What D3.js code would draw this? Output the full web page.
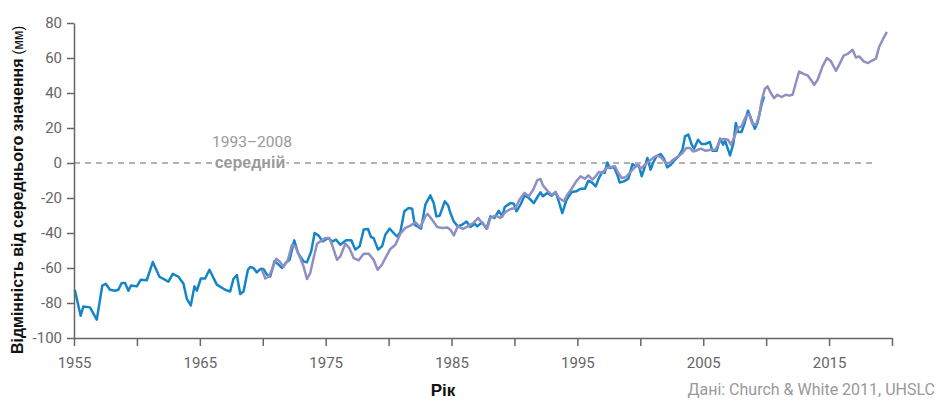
<!DOCTYPE html>
<html>
<head>
<meta charset="utf-8">
<script src="https://cdn.jsdelivr.net/npm/d3@7"></script>
<style>
  body { margin: 0; background: #fff; }
  .axis .tick text { font-family: Roboto, sans-serif; font-size: 15px; fill: #666; }
  .axis path, .axis line { stroke: #666; stroke-width: 1.5; }
</style>
</head>
<body>
<div id="chart"></div>
<script>
// Church & White 2011 (blue)
const cwYears = [1955.06,1955.53,1955.74,1956.27,1956.81,1957.25,1957.52,1957.86,1958.26,1958.52,1958.79,1959.06,1959.32,1959.53,1959.99,1960.31,1960.78,1961.26,1961.79,1962.5,1962.85,1963.3,1963.7,1963.97,1964.28,1964.57,1964.76,1965.08,1965.42,1965.76,1966.35,1967.01,1967.41,1967.67,1967.94,1968.21,1968.47,1968.82,1969.0,1969.26,1969.53,1969.8,1970.06,1970.33,1970.59,1970.93,1971.25,1971.52,1971.84,1972.13,1972.5,1972.8,1973.24,1973.51,1973.85,1974.12,1974.44,1974.75,1975.18,1975.55,1975.82,1976.16,1976.62,1977.04,1977.35,1977.7,1978.02,1978.36,1978.6,1978.81,1979.16,1979.48,1979.74,1980.08,1980.4,1980.67,1980.93,1981.25,1981.59,1981.87,1982.07,1982.31,1982.58,1982.92,1983.32,1983.58,1983.8,1984.06,1984.46,1984.73,1984.91,1985.18,1985.49,1985.84,1986.19,1986.5,1986.85,1987.04,1987.43,1987.78,1988.09,1988.41,1988.76,1989.03,1989.23,1989.5,1989.69,1989.95,1990.16,1990.48,1990.8,1991.14,1991.54,1991.86,1992.07,1992.26,1992.61,1992.95,1993.27,1993.48,1993.8,1994.14,1994.54,1994.91,1995.25,1995.6,1995.87,1996.19,1996.45,1996.71,1996.98,1997.16,1997.38,1997.56,1997.9,1998.17,1998.36,1998.7,1999.05,1999.37,1999.63,1999.89,2000.11,2000.29,2000.56,2000.82,2001.01,2001.28,2001.62,2001.88,2002.15,2002.42,2002.68,2003.03,2003.35,2003.55,2003.82,2004.08,2004.27,2004.59,2004.86,2005.2,2005.52,2005.73,2006.07,2006.34,2006.58,2006.73,2006.93,2007.13,2007.4,2007.59,2007.77,2008.04,2008.25,2008.56,2008.78,2009.1,2009.31,2009.63,2009.84];
const cwValues = [-72.4,-87.3,-82,-82.5,-89.5,-70,-69,-72.4,-73,-72.4,-68.6,-68.6,-73,-70,-70.5,-66.7,-67,-56.6,-65,-67.8,-63.3,-65,-69,-77.7,-81.4,-70.5,-73,-66,-66,-61,-69.5,-72.4,-73.4,-66.3,-64,-74.9,-73.4,-61,-59.4,-60,-62.5,-60.6,-60.6,-63.8,-64.8,-56.2,-58,-60,-57,-55.3,-44.2,-51.4,-56.2,-56.8,-50.5,-40,-41.5,-44.8,-42.9,-44.8,-43.8,-46.7,-44.2,-44.2,-49.5,-47.6,-38,-37.7,-42.3,-42.9,-49.5,-47.6,-41,-37.5,-40,-42,-39.6,-27.6,-25.7,-26.1,-35.3,-36.2,-37.5,-23.8,-18.5,-22.9,-30.5,-30.1,-21.9,-24.2,-28.6,-33.4,-36.2,-35.3,-33.4,-36.6,-34.7,-36.2,-33.9,-37.5,-30.5,-31.4,-27.3,-30.5,-25.1,-23.8,-22.9,-23.3,-27.6,-23.8,-18.5,-20,-22.9,-19,-16.8,-19,-17.1,-18.7,-16.6,-21,-28.6,-21,-16.6,-16.2,-14.7,-14.7,-10.1,-11.4,-13.4,-8.6,-5.1,-5.7,0.3,-2.9,-2.3,-6.7,-11.1,-10.5,-9,-0.6,-1.9,-1.4,-7.6,-3.8,2.9,-3.8,0,3.8,5.1,2.5,-2.5,-1,1.3,3.8,7.6,15.2,16.2,10.5,8.2,13.3,10.9,10.9,12,7,7,13.9,10.5,12.7,8.6,4.3,11.4,22.9,17.7,17.7,21.9,29.9,25.7,19.6,22.9,33.3,38.1];

// UHSLC (purple)
const uhYears = [1969.93,1970.2,1970.46,1970.73,1971.07,1971.33,1971.65,1972.0,1972.32,1972.58,1972.98,1973.24,1973.51,1973.77,1974.04,1974.31,1974.57,1974.97,1975.29,1975.55,1975.9,1976.16,1976.56,1976.88,1977.22,1977.62,1978.02,1978.41,1978.81,1979.13,1979.48,1979.74,1980.14,1980.54,1980.93,1981.33,1981.73,1982.13,1982.53,1982.92,1983.11,1983.46,1983.86,1984.25,1984.65,1984.91,1985.18,1985.49,1985.92,1986.29,1986.72,1987.12,1987.43,1987.83,1988.09,1988.49,1988.89,1989.29,1989.69,1990.08,1990.43,1990.8,1991.14,1991.49,1991.81,1992.07,1992.26,1992.61,1992.95,1993.27,1993.53,1993.93,1994.2,1994.54,1994.91,1995.25,1995.6,1995.87,1996.19,1996.45,1996.71,1996.98,1997.3,1997.64,1997.98,1998.25,1998.52,1998.83,1999.15,1999.5,1999.76,2000.03,2000.37,2000.69,2001.01,2001.36,2001.7,2002.02,2002.34,2002.68,2003.03,2003.35,2003.66,2003.93,2004.19,2004.4,2004.8,2005.2,2005.6,2005.99,2006.34,2006.66,2006.97,2007.19,2007.45,2007.72,2008.04,2008.38,2008.64,2008.91,2009.18,2009.44,2009.63,2009.89,2010.11,2010.37,2010.63,2010.9,2011.22,2011.56,2011.83,2012.1,2012.36,2012.62,2012.97,2013.29,2013.55,2013.82,2014.09,2014.48,2014.83,2015.15,2015.54,2015.81,2016.15,2016.47,2016.87,2017.13,2017.4,2017.74,2018.11,2018.38,2018.72,2018.99,2019.33,2019.59];
const uhValues = [-61,-66,-65,-61,-54.7,-56.2,-59.4,-55.3,-46.7,-47.6,-54.3,-59,-66.3,-62.9,-54.3,-46.1,-44.8,-42.9,-42.9,-47.6,-55.3,-53.4,-46.1,-48.6,-54.3,-55.6,-51.8,-51.8,-55.3,-61,-58,-54.3,-49.1,-46.7,-40.4,-37.1,-35.8,-33.9,-36.6,-30.5,-29.1,-32.4,-36.6,-37.1,-36.8,-38.1,-41.4,-36.2,-37.7,-36.2,-34.3,-31.4,-34.3,-37.5,-31.4,-30.1,-31.4,-28,-26.3,-25.7,-20.6,-17.1,-19,-15.3,-9.9,-9.1,-12.8,-15.8,-18.1,-16.6,-20,-21.9,-18.1,-14.7,-10.5,-7.6,-9,-7.1,-9.5,-7.6,-5.1,-5.7,-2.9,-2.3,-1.9,-5.7,-8.6,-8.2,-5.7,-2.9,-1,-3.3,-1,0.9,2.9,4.3,2.9,0,0,2.3,3.8,5.7,8.6,8.6,6.6,7,8.2,7,7.6,7.6,13.3,13.7,13.3,10.5,14.3,20,20.9,26.6,28,22.3,21.9,26.6,35.2,42.3,43.8,40,37.1,39,37.7,39,38.5,39,45.7,52.3,50.9,50.1,47.6,44.7,47.6,55.2,60,58.1,52.7,56.2,61.3,62.3,64.7,60.3,60.9,58.1,57.1,58.4,59.6,66.6,71.4,74.9];

const yTicks = [-100, -80, -60, -40, -20, 0, 20, 40, 60, 80];
const xTicks = [1955, 1960, 1965, 1970, 1975, 1980, 1985, 1990, 1995, 2000, 2005, 2010, 2015, 2020];
const xLabels = [1955, 1965, 1975, 1985, 1995, 2005, 2015];
const refLine = { from: 1955, to: 2018.5, value: 0 };

const w = 939, h = 403;
const svg = d3.select("#chart").append("svg").attr("width", w).attr("height", h);

const x = d3.scaleLinear().domain([1955, 2020]).range([74, 892]);
const y = d3.scaleLinear().domain([-100, 80]).range([338, 23]);

// reference (0) line
svg.append("line")
  .attr("x1", x(refLine.from)).attr("x2", x(refLine.to))
  .attr("y1", y(refLine.value)).attr("y2", y(refLine.value))
  .attr("stroke", "#999").attr("stroke-width", 1.5)
  .attr("stroke-dasharray", "6,5");

const line = d3.line().x(d => x(d[0])).y(d => y(d[1]));

svg.append("path")
  .datum(cwYears.map((yr, i) => [yr, cwValues[i]]))
  .attr("d", line).attr("fill", "none")
  .attr("stroke", "#1585c8").attr("stroke-width", 2.5)
  .attr("stroke-linejoin", "round");

svg.append("path")
  .datum(uhYears.map((yr, i) => [yr, uhValues[i]]))
  .attr("d", line).attr("fill", "none")
  .attr("stroke", "#8e8fc3").attr("stroke-width", 2.5)
  .attr("stroke-linejoin", "round");

// axes
svg.append("g").attr("class", "axis")
  .attr("transform", "translate(0," + y(-100) + ")")
  .call(d3.axisBottom(x).tickValues(xTicks).tickSize(8).tickSizeOuter(0).tickPadding(11)
    .tickFormat(d => xLabels.includes(d) ? String(d) : ""));

svg.append("g").attr("class", "axis")
  .attr("transform", "translate(" + x(1955) + ",0)")
  .call(d3.axisLeft(y).tickValues(yTicks).tickSize(7).tickSizeOuter(0).tickPadding(5)
    .tickFormat(d => String(d)));

// annotation
svg.append("text")
  .attr("x", 252).attr("y", 147)
  .attr("text-anchor", "middle")
  .style("font-family", "Roboto, sans-serif").style("font-size", "15.5px").attr("fill", "#999")
  .text("1993–2008");
svg.append("text")
  .attr("x", 250).attr("y", 168)
  .attr("text-anchor", "middle")
  .style("font-family", "'Liberation Sans', Arial, sans-serif").style("font-size", "16px")
  .style("font-weight", "bold").attr("fill", "#999")
  .attr("stroke", "#fff").attr("stroke-width", 4).style("paint-order", "stroke")
  .text("середній");

// axis titles
const yt = svg.append("text")
  .attr("transform", "translate(23,190) rotate(-90)")
  .attr("text-anchor", "middle")
  .style("font-family", "'Liberation Sans', Arial, sans-serif").attr("fill", "#111");
yt.append("tspan").style("font-size", "16px").style("font-weight", "bold").text("Відмінність від середнього значення");
yt.append("tspan").style("font-size", "14px").text(" (мм)");

svg.append("text")
  .attr("x", 443).attr("y", 396)
  .attr("text-anchor", "middle")
  .style("font-family", "'Liberation Sans', Arial, sans-serif").style("font-size", "17px")
  .style("font-weight", "bold").attr("fill", "#111")
  .text("Рік");

svg.append("text")
  .attr("x", 935).attr("y", 395)
  .attr("text-anchor", "end")
  .style("font-family", "Roboto, sans-serif").style("font-size", "16px").attr("fill", "#999")
  .text("Дані: Church & White 2011, UHSLC");
</script>
</body>
</html>
